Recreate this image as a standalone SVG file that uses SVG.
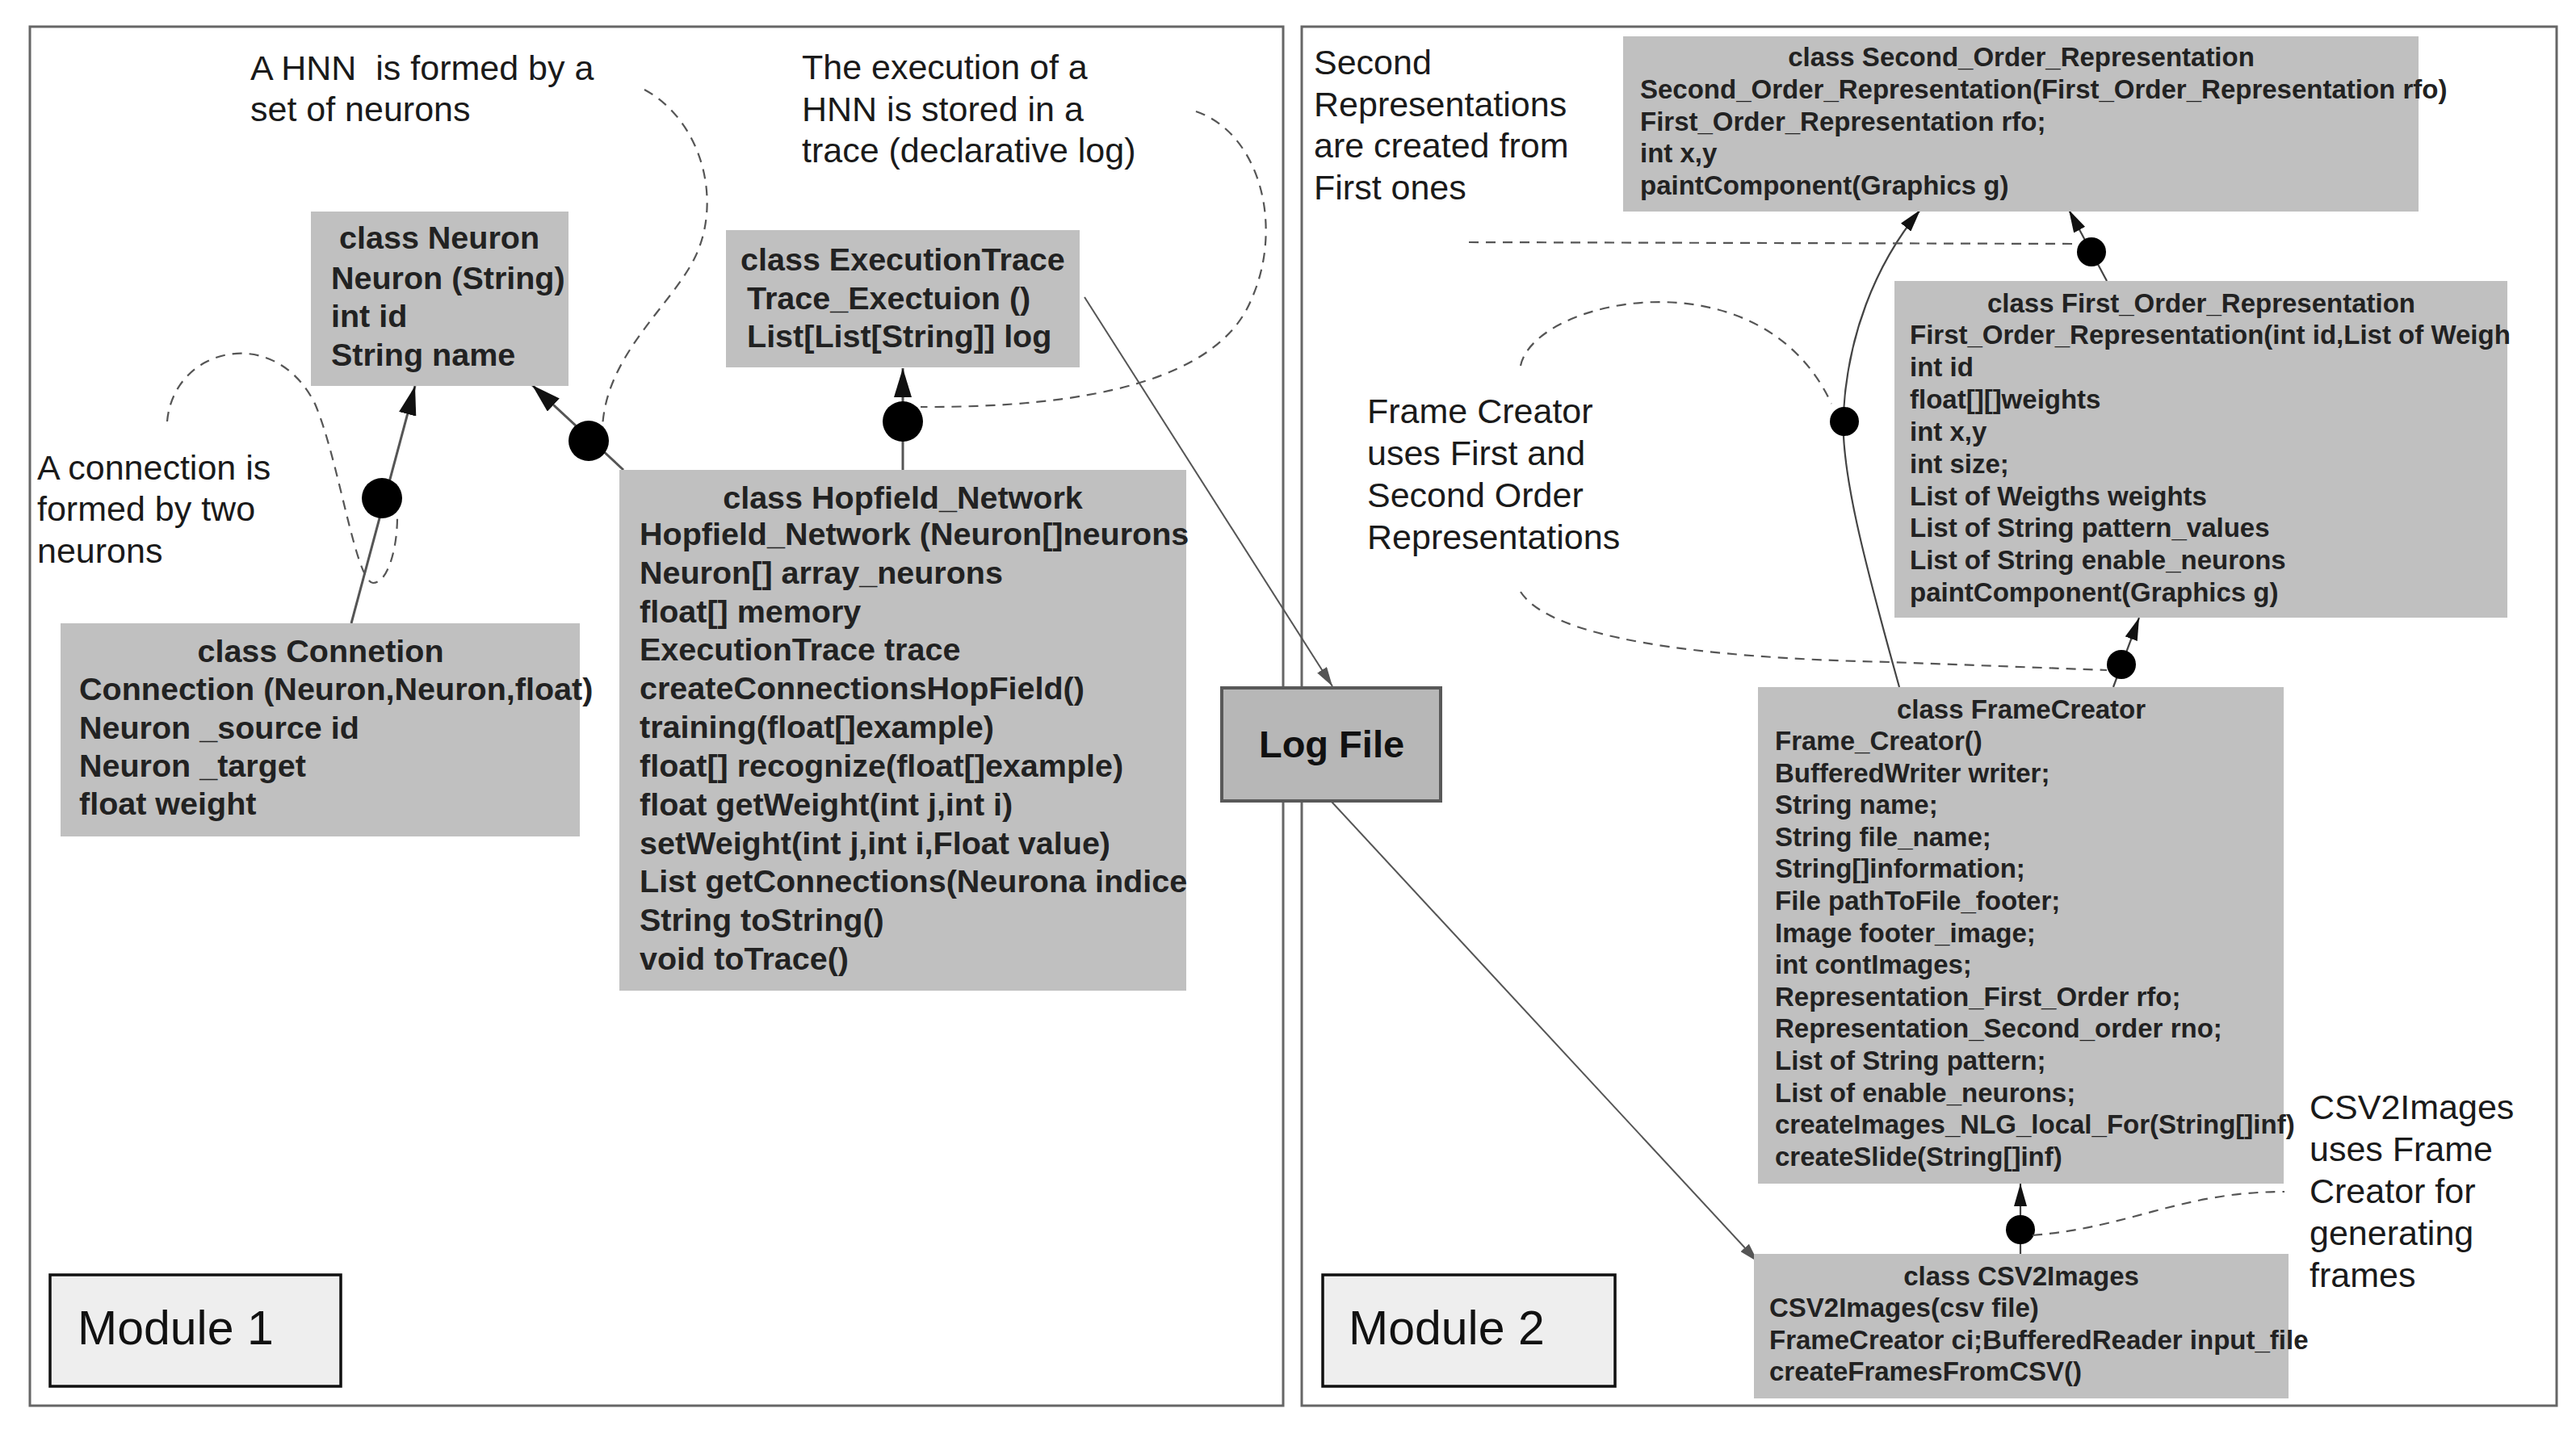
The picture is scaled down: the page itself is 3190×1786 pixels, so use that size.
<svg xmlns="http://www.w3.org/2000/svg" width="3190" height="1786" viewBox="0 0 3190 1786">
<style>
.frame{fill:none;stroke:#666;stroke-width:3}
.box{fill:#c0c0c0}
.log{fill:#b7b7b7;stroke:#595959;stroke-width:4}
.mod{fill:#eeeeee;stroke:#111;stroke-width:3.5}
.t1{font-family:"Liberation Sans",Arial,sans-serif;font-weight:bold;font-size:39.5px;fill:#222}
.t2{font-family:"Liberation Sans",Arial,sans-serif;font-weight:bold;font-size:33px;fill:#222}
.c{text-anchor:middle}
.note{font-family:"Liberation Sans",Arial,sans-serif;font-size:43px;fill:#1a1a1a}
.modt{font-family:"Liberation Sans",Arial,sans-serif;font-size:59px;fill:#111}
.logt{font-family:"Liberation Sans",Arial,sans-serif;font-weight:bold;font-size:47px;fill:#111;text-anchor:middle}
.conn{fill:none;stroke:#555;stroke-width:3}
.conn2{fill:none;stroke:#444;stroke-width:2.2}
.thin{fill:none;stroke:#555;stroke-width:2}
.dash{fill:none;stroke:#555;stroke-width:2.2;stroke-dasharray:12 9}
.dot{fill:#000}
</style>
<defs>
<marker id="arrL" viewBox="0 0 36 22" refX="36" refY="11" markerWidth="36" markerHeight="22" markerUnits="userSpaceOnUse" orient="auto"><path d="M0,0 L36,11 L0,22 z" fill="#111"/></marker>
<marker id="arrS" viewBox="0 0 28 16" refX="28" refY="8" markerWidth="28" markerHeight="16" markerUnits="userSpaceOnUse" orient="auto"><path d="M0,0 L28,8 L0,16 z" fill="#111"/></marker>
<marker id="arrT" viewBox="0 0 24 14" refX="24" refY="7" markerWidth="24" markerHeight="14" markerUnits="userSpaceOnUse" orient="auto"><path d="M0,0 L24,7 L0,14 z" fill="#555"/></marker>
</defs>
<rect width="3190" height="1786" fill="#fff"/>

<g id="module1-frame"><rect class="frame" x="37" y="33" width="1552" height="1708"/></g>
<g id="module2-frame"><rect class="frame" x="1612" y="33" width="1554" height="1708"/></g>

<g id="connectors">
  <line class="conn" x1="435" y1="772" x2="514" y2="478" marker-end="url(#arrL)"/>
  <circle class="dot" cx="473" cy="617" r="25"/>
  <line class="conn" x1="772" y1="582" x2="659" y2="477" marker-end="url(#arrL)"/>
  <circle class="dot" cx="729" cy="546" r="25"/>
  <line class="conn" x1="1118" y1="582" x2="1118" y2="456" marker-end="url(#arrL)"/>
  <circle class="dot" cx="1118" cy="522" r="25"/>
  <line class="thin" x1="1343" y1="368" x2="1650" y2="850" marker-end="url(#arrT)"/>
  <line class="thin" x1="1649" y1="993" x2="2177" y2="1563" marker-end="url(#arrT)"/>
  <line class="conn2" x1="2609" y1="348" x2="2562" y2="260" marker-end="url(#arrS)"/>
  <circle class="dot" cx="2590" cy="312" r="18"/>
  <path class="conn2" d="M2352 851 C2310 700 2278 580 2283 510 C2288 420 2320 330 2378 260" marker-end="url(#arrS)"/>
  <circle class="dot" cx="2284" cy="522" r="18"/>
  <line class="conn2" x1="2617" y1="851" x2="2649" y2="765" marker-end="url(#arrS)"/>
  <circle class="dot" cx="2627" cy="823" r="18"/>
  <line class="conn2" x1="2502" y1="1553" x2="2502" y2="1466" marker-end="url(#arrS)"/>
  <circle class="dot" cx="2502" cy="1523" r="18"/>
  <path class="dash" d="M798 111 C870 150 895 250 860 320 C830 380 750 440 746 530"/>
  <path class="dash" d="M1481 138 C1560 165 1590 280 1550 370 C1510 470 1350 505 1140 504"/>
  <path class="dash" d="M207 522 C215 430 340 400 390 500 C420 570 440 720 462 722 C480 722 492 680 492 640"/>
  <path class="dash" d="M1819 300 L2572 302"/>
  <path class="dash" d="M1883 453 C1900 370 2180 310 2268 500"/>
  <path class="dash" d="M1883 733 C1920 790 2100 815 2340 820 L2609 830"/>
  <path class="dash" d="M2517 1530 C2640 1520 2700 1476 2829 1476"/>
</g>

<g id="note-hnn"><text class="note" x="310" y="99" style="white-space:pre">A HNN  is formed by a</text><text class="note" x="310" y="150">set of neurons</text></g>
<g id="note-trace"><text class="note" x="993" y="98">The execution of a</text><text class="note" x="993" y="150">HNN is stored in a</text><text class="note" x="993" y="201">trace (declarative log)</text></g>
<g id="note-connection"><text class="note" x="46" y="594">A connection is</text><text class="note" x="46" y="645">formed by two</text><text class="note" x="46" y="697">neurons</text></g>

<g id="neuron"><rect class="box" x="385" y="262" width="319" height="216"/>
<text class="t1" x="420" y="308">class Neuron</text>
<text class="t1" x="410" y="358">Neuron (String)</text>
<text class="t1" x="410" y="405">int id</text>
<text class="t1" x="410" y="453">String name</text></g>

<g id="connection"><rect class="box" x="75" y="772" width="643" height="264"/>
<text class="t1 c" x="397" y="820">class Connetion</text>
<text class="t1" x="98" y="867">Connection (Neuron,Neuron,float)</text>
<text class="t1" x="98" y="915">Neuron _source id</text>
<text class="t1" x="98" y="962">Neuron _target</text>
<text class="t1" x="98" y="1009">float weight</text></g>

<g id="executiontrace"><rect class="box" x="899" y="285" width="438" height="170"/>
<text class="t1" x="917" y="335">class ExecutionTrace</text>
<text class="t1" x="925" y="383">Trace_Exectuion ()</text>
<text class="t1" x="925" y="430">List[List[String]] log</text></g>

<g id="hopfield"><rect class="box" x="767" y="582" width="702" height="645"/>
<text class="t1 c" x="1118" y="630">class Hopfield_Network</text>
<text class="t1" x="792" y="675">Hopfield_Network (Neuron[]neurons</text>
<text class="t1" x="792" y="723">Neuron[] array_neurons</text>
<text class="t1" x="792" y="771">float[] memory</text>
<text class="t1" x="792" y="818">ExecutionTrace trace</text>
<text class="t1" x="792" y="866">createConnectionsHopField()</text>
<text class="t1" x="792" y="914">training(float[]example)</text>
<text class="t1" x="792" y="962">float[] recognize(float[]example)</text>
<text class="t1" x="792" y="1010">float getWeight(int j,int i)</text>
<text class="t1" x="792" y="1058">setWeight(int j,int i,Float value)</text>
<text class="t1" x="792" y="1105">List getConnections(Neurona indice</text>
<text class="t1" x="792" y="1153">String toString()</text>
<text class="t1" x="792" y="1201">void toTrace()</text></g>

<g id="logfile"><rect class="log" x="1513" y="852" width="271" height="140"/>
<text class="logt" x="1649" y="938">Log File</text></g>

<g id="module1-label"><rect class="mod" x="62" y="1579" width="360" height="138"/>
<text class="modt" x="96" y="1665">Module 1</text></g>
<g id="module2-label"><rect class="mod" x="1638" y="1579" width="362" height="138"/>
<text class="modt" x="1670" y="1665">Module 2</text></g>

<g id="note-second"><text class="note" x="1627" y="92">Second</text><text class="note" x="1627" y="144">Representations</text><text class="note" x="1627" y="195">are created from</text><text class="note" x="1627" y="247">First ones</text></g>
<g id="note-framecreator"><text class="note" x="1693" y="524">Frame Creator</text><text class="note" x="1693" y="576">uses First and</text><text class="note" x="1693" y="628">Second Order</text><text class="note" x="1693" y="680">Representations</text></g>
<g id="note-csv"><text class="note" x="2860" y="1386">CSV2Images</text><text class="note" x="2860" y="1438">uses Frame</text><text class="note" x="2860" y="1490">Creator for</text><text class="note" x="2860" y="1542">generating</text><text class="note" x="2860" y="1594">frames</text></g>

<g id="second-order"><rect class="box" x="2010" y="45" width="985" height="217"/>
<text class="t2 c" x="2503" y="82">class Second_Order_Representation</text>
<text class="t2" x="2031" y="122">Second_Order_Representation(First_Order_Representation rfo)</text>
<text class="t2" x="2031" y="162">First_Order_Representation rfo;</text>
<text class="t2" x="2031" y="201">int x,y</text>
<text class="t2" x="2031" y="241">paintComponent(Graphics g)</text></g>

<g id="first-order"><rect class="box" x="2346" y="348" width="759" height="417"/>
<text class="t2 c" x="2726" y="387">class First_Order_Representation</text>
<text class="t2" x="2365" y="426">First_Order_Representation(int id,List of Weigh</text>
<text class="t2" x="2365" y="466">int id</text>
<text class="t2" x="2365" y="506">float[][]weights</text>
<text class="t2" x="2365" y="546">int x,y</text>
<text class="t2" x="2365" y="586">int size;</text>
<text class="t2" x="2365" y="626">List of Weigths weights</text>
<text class="t2" x="2365" y="665">List of String pattern_values</text>
<text class="t2" x="2365" y="705">List of String enable_neurons</text>
<text class="t2" x="2365" y="745">paintComponent(Graphics g)</text></g>

<g id="framecreator"><rect class="box" x="2177" y="851" width="651" height="615"/>
<text class="t2 c" x="2503" y="890">class FrameCreator</text>
<text class="t2" x="2198" y="929">Frame_Creator()</text>
<text class="t2" x="2198" y="969">BufferedWriter writer;</text>
<text class="t2" x="2198" y="1008">String name;</text>
<text class="t2" x="2198" y="1048">String file_name;</text>
<text class="t2" x="2198" y="1087">String[]information;</text>
<text class="t2" x="2198" y="1127">File pathToFile_footer;</text>
<text class="t2" x="2198" y="1167">Image footer_image;</text>
<text class="t2" x="2198" y="1206">int contImages;</text>
<text class="t2" x="2198" y="1246">Representation_First_Order rfo;</text>
<text class="t2" x="2198" y="1285">Representation_Second_order rno;</text>
<text class="t2" x="2198" y="1325">List of String pattern;</text>
<text class="t2" x="2198" y="1365">List of enable_neurons;</text>
<text class="t2" x="2198" y="1404">createImages_NLG_local_For(String[]inf)</text>
<text class="t2" x="2198" y="1444">createSlide(String[]inf)</text></g>

<g id="csv2images"><rect class="box" x="2172" y="1553" width="662" height="179"/>
<text class="t2 c" x="2503" y="1592">class CSV2Images</text>
<text class="t2" x="2191" y="1631">CSV2Images(csv file)</text>
<text class="t2" x="2191" y="1671">FrameCreator ci;BufferedReader input_file</text>
<text class="t2" x="2191" y="1710">createFramesFromCSV()</text></g>
</svg>
